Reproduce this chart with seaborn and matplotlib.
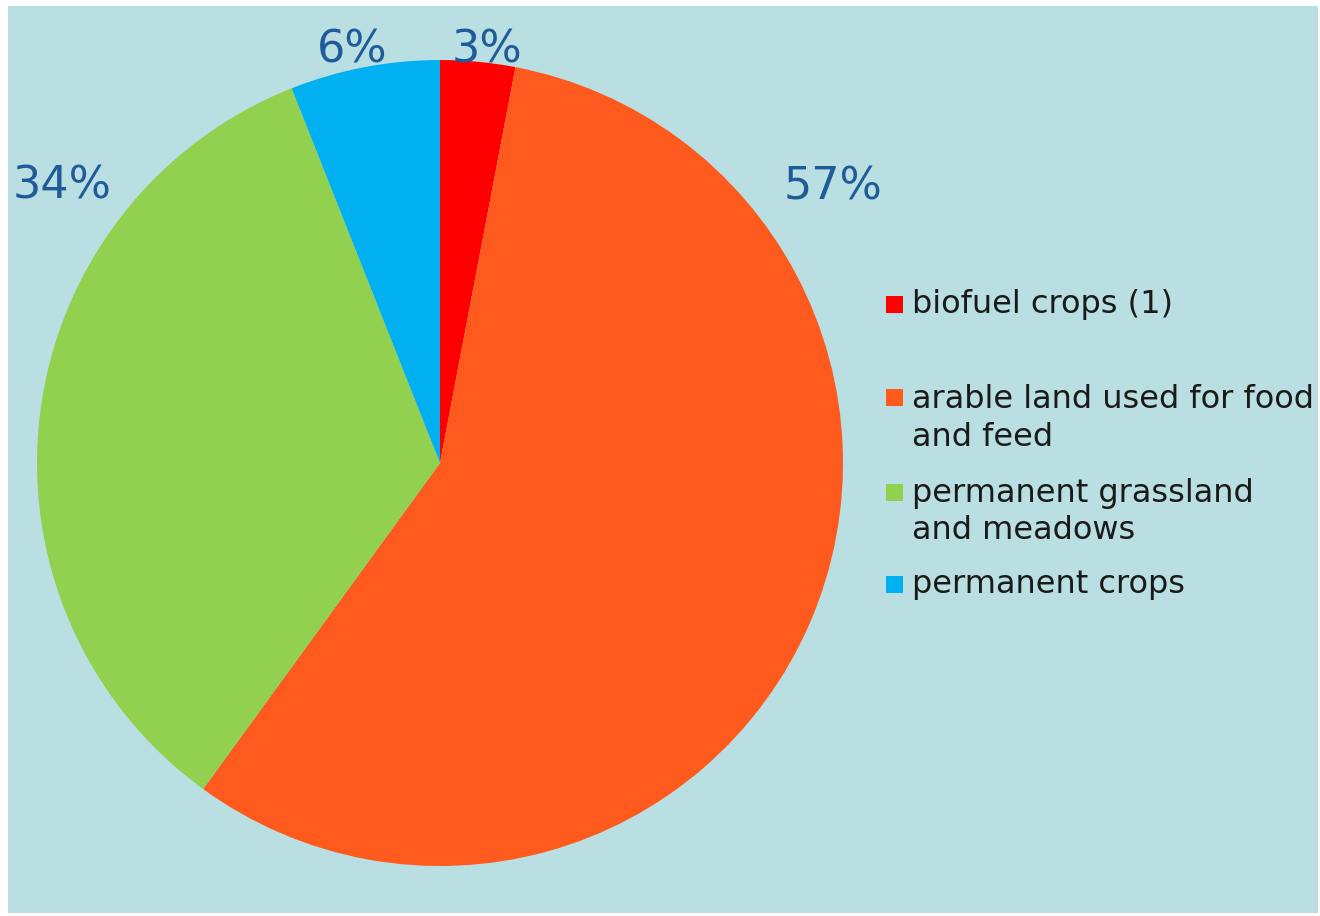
import matplotlib
matplotlib.use("Agg")
import matplotlib.pyplot as plt
from matplotlib.patches import Rectangle
import seaborn as sns

# %%
categories = ["biofuel crops (1)", "arable land used for food\nand feed",
              "permanent grassland\nand meadows", "permanent crops"]
shares = [3, 57, 34, 6]
pct_labels = ["3%", "57%", "34%", "6%"]
colors = ["#FF0000", "#FF5A1E", "#92D050", "#00B0F0"]

# %%
sns.set_style("white")
plt.rcParams['font.family'] = ['DejaVu Sans']

W, H = 1320, 916
fig = plt.figure(figsize=(W / 100, H / 100), dpi=100)
fig.patch.set_facecolor("white")
bg = "#BADFE2"
fig.patches.append(Rectangle((8 / W, 1 - 913 / H), 1310 / W, 907 / H,
                             transform=fig.transFigure, facecolor=bg,
                             edgecolor="none", zorder=-10))

# pie centred at (440, 463) px, radius 403 px
R = 403
half = 440
ax = fig.add_axes([(440 - half) / W, (H - 463 - half) / H, 2 * half / W, 2 * half / H])
ax.set_facecolor("none")
palette = sns.color_palette(colors)
wedges, texts = ax.pie(shares, colors=palette, startangle=90, counterclock=False,
                       labels=pct_labels, labeldistance=1.1,
                       wedgeprops=dict(linewidth=0))
ax.set_xlim(-half / R, half / R)
ax.set_ylim(-half / R, half / R)
ax.set_aspect("equal")
ax.axis("off")

# data-label placement (Excel "best fit"), in pie radius units
label_pos = [(0.117, 1.025), (0.975, 0.685), (-0.938, 0.688), (-0.218, 1.025)]
for t, (x, y) in zip(texts, label_pos):
    t.set_position((x, y))
    t.set_ha("center")
    t.set_va("center")
    t.set_fontsize(32)
    t.set_color("#1F5B99")
    t.set_clip_on(False)

# legend, drawn line by line like the original
legend_rows = [(304, [313]), (398, [408, 446]), (492, [502, 539]), (584, [593])]
for wedge, label, (my, baselines) in zip(wedges, categories, legend_rows):
    fig.patches.append(Rectangle((886 / W, 1 - (my + 8.5) / H), 17 / W, 17 / H,
                                 transform=fig.transFigure,
                                 facecolor=wedge.get_facecolor(), edgecolor="none"))
    for line, by in zip(label.split("\n"), baselines):
        fig.text(912 / W, 1 - by / H, line, fontsize=23, color="#1A1A1A",
                 ha="left", va="baseline")

plt.savefig("out.png", dpi=100)
plt.close()
